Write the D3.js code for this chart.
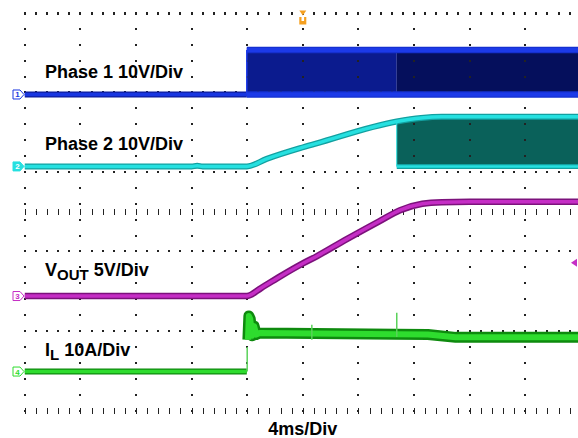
<!DOCTYPE html>
<html>
<head>
<meta charset="utf-8">
<script src="https://cdn.jsdelivr.net/npm/d3@7"></script>
<style>
  html, body { margin: 0; padding: 0; background: #fff; }
  svg { display: block; }
</style>
</head>
<body>
<svg id="scope" width="578" height="438"></svg>
<script>
// channel setup: volts (or amps) per division and ground position in divisions
var chPerDiv = [10, 10, 5, 10];
var chOffsetDiv = [2.95, 1.14, -2.12, -4.02];
var chColors = ["#1836e0", "#26e0e0", "#c52ec5", "#2edc2e"];

// time base: 4 ms/div, trigger in the centre
var timeDomain = [-20, 20];
var switchStartT = -4.03;   // controller starts switching
var phase2StartT = 6.76;    // second phase joins
var trigLevelV = 4.2;       // vout trigger level marker

// Phase 1 (V)
var ph1T = [-20, -4.03];
var ph1V = [0, 0];
var ph1EnvT = [-4.03, 6.76, 20];
var ph1High = [11.2, 11.2, 11.2];
var ph1Low = [0, 0, 0];

// Phase 2 (V)
var ph2T = [-20, -8.0, -7.6, -7.2, -4.03, -2.6, -0.2, 1.0, 6.76, 8.5, 10, 20];
var ph2V = [0, 0, 0.15, 0, 0, 1.9, 4.6, 5.8, 11.3, 12.2, 12.5, 12.5];

// VOUT (V)
var voutT = [-20, -4.03, -3, -1.6, 0, 1, 3, 5.5, 7, 8.6, 10, 12, 20];
var voutV = [0, 0, 1.0, 2.5, 4.1, 5.0, 7.0, 9.4, 10.8, 11.6, 11.8, 11.85, 11.85];

// IL (A)
var ilPreT = [-20, -4.03];
var ilPreA = [0, 0];
var ilT = [-3.95, -3.88, -3.78, -3.65, -3.5, -3.35, -3.1, 6.7, 9.0, 11.0, 20];
var ilA = [8.0, 14.0, 13.2, 9.0, 11.4, 9.3, 9.7, 9.4, 9.3, 8.6, 8.6];
var ilGlitchT = [-4.0, 0.65, 6.76];
var ilGlitchLo = [0, 8.0, 8.7];
var ilGlitchHi = [6.2, 11.8, 14.8];

var width = 578, height = 438;
var svg = d3.select("#scope");
svg.append("rect").attr("width", width).attr("height", height).attr("fill", "#fff");

var x = d3.scaleLinear().domain(timeDomain).range([24.8, 580.8]);
var yDiv = d3.scaleLinear().domain([-5, 5]).range([410.5, 13]);

function yCh(i) {
  return function (v) { return yDiv(chOffsetDiv[i] + v / chPerDiv[i]); };
}
var y1 = yCh(0), y2 = yCh(1), y3 = yCh(2), y4 = yCh(3);

function pts(ts, vs) {
  return ts.map(function (t, i) { return [t, vs[i]]; });
}

// ---- switching envelopes (drawn under the graticule)
var fills = svg.append("g");

var ph1Env = ph1EnvT.map(function (t, i) { return [t, ph1Low[i], ph1High[i]]; });
var ph1Area = d3.area()
  .x(function (d) { return x(d[0]); })
  .y0(function (d) { return y1(d[1]); })
  .y1(function (d) { return y1(d[2]); });

fills.append("path")
  .attr("d", ph1Area(ph1Env.filter(function (d) { return d[0] <= phase2StartT; })))
  .attr("fill", "#0b1b8e");
fills.append("path")
  .attr("d", ph1Area(ph1Env.filter(function (d) { return d[0] >= phase2StartT; })))
  .attr("fill", "#050f5c");

var ph2Sw = pts(ph2T, ph2V).filter(function (d) { return d[0] >= phase2StartT; });
fills.append("path")
  .attr("d", d3.area()
    .x(function (d) { return x(d[0]); })
    .y0(function () { return y2(0); })
    .y1(function (d) { return y2(d[1]); })
    .curve(d3.curveMonotoneX)(ph2Sw))
  .attr("fill", "#0a615a");

// ---- graticule (snapped to whole pixels so the dots stay crisp)
var grid = svg.append("g").attr("fill", "#222").attr("shape-rendering", "crispEdges");
var majorX = d3.range(timeDomain[0], timeDomain[1] + 0.01, 4);
var minorX = d3.range(timeDomain[0], timeDomain[1] + 0.01, 0.8);
var dotRows = [-3, -1, 1, 3];
var colDots = d3.range(-5, 5.01, 0.4);

function px(v) { return Math.round(v) - 1; }

// dotted vertical lines
grid.selectAll("rect.col")
  .data(d3.cross(majorX, colDots))
  .enter()
  .append("rect")
  .attr("class", "col")
  .attr("x", function (d) { return px(x(d[0])); })
  .attr("y", function (d) { return px(yDiv(d[1])); })
  .attr("width", 2)
  .attr("height", 2);

// dotted horizontal lines
grid.selectAll("rect.row")
  .data(d3.cross(dotRows, minorX))
  .enter()
  .append("rect")
  .attr("class", "row")
  .attr("x", function (d) { return px(x(d[1])); })
  .attr("y", function (d) { return px(yDiv(d[0])); })
  .attr("width", 2)
  .attr("height", 2);

// top edge: short ticks
grid.selectAll("rect.top")
  .data(minorX)
  .enter()
  .append("rect")
  .attr("class", "top")
  .attr("x", function (d) { return px(x(d)); })
  .attr("y", px(yDiv(5)))
  .attr("width", 2)
  .attr("height", 3);

// tick rows: centre line and bottom edge
grid.selectAll("rect.tick")
  .data(d3.cross([0, -5], minorX))
  .enter()
  .append("rect")
  .attr("class", "tick")
  .attr("x", function (d) { return Math.round(x(d[1])); })
  .attr("y", function (d) { return Math.round(yDiv(d[0])) - 3; })
  .attr("width", 1)
  .attr("height", 6);

// ---- traces
var traces = svg.append("g").attr("fill", "none").attr("stroke-linejoin", "round");

function band(data, yf, dark, bright, wDark, wBright, curve) {
  var line = d3.line()
    .x(function (d) { return x(d[0]); })
    .y(function (d) { return yf(d[1]); })
    .curve(curve || d3.curveLinear);
  traces.append("path").attr("d", line(data)).attr("stroke", dark).attr("stroke-width", wDark);
  traces.append("path").attr("d", line(data)).attr("stroke", bright).attr("stroke-width", wBright);
}

// phase 1
band(pts(ph1T, ph1V), y1, "#0c1c9c", chColors[0], 6, 3.5);
band(ph1Env.map(function (d) { return [d[0], d[2]]; }), y1, "#1530d0", "#1c3ae8", 6.5, 4);
band(ph1Env.map(function (d) { return [d[0], d[1]]; }), y1, "#1530d0", "#1c3ae8", 6.5, 4);
traces.append("line")
  .attr("x1", x(switchStartT)).attr("x2", x(switchStartT))
  .attr("y1", y1(ph1Low[0])).attr("y2", y1(ph1High[0]))
  .attr("stroke", "#1c3ae8").attr("stroke-width", 1.5);

// phase 2
band(pts(ph2T, ph2V), y2, "#12a0a0", chColors[1], 6, 3.5, d3.curveMonotoneX);
band([[phase2StartT, 0], [timeDomain[1], 0]], y2, "#12a0a0", chColors[1], 5, 2.5);
traces.append("line")
  .attr("x1", x(phase2StartT)).attr("x2", x(phase2StartT))
  .attr("y1", y2(0)).attr("y2", y2(ph2Sw[0][1]))
  .attr("stroke", chColors[1]).attr("stroke-width", 1);

// vout
band(pts(voutT, voutV), y3, "#7c127c", chColors[2], 6.5, 3.5, d3.curveMonotoneX);

// inductor current
band(pts(ilPreT, ilPreA), y4, "#0e8a0e", chColors[3], 6, 3.5);
band(pts(ilT, ilA), y4, "#0e8a0e", chColors[3], 11, 6);
traces.selectAll("line.glitch")
  .data(ilGlitchT)
  .enter()
  .append("line")
  .attr("class", "glitch")
  .attr("x1", function (d) { return x(d); })
  .attr("x2", function (d) { return x(d); })
  .attr("y1", function (d, i) { return y4(ilGlitchLo[i]); })
  .attr("y2", function (d, i) { return y4(ilGlitchHi[i]); })
  .attr("stroke", "#5ad25a")
  .attr("stroke-width", 1.5);

// ---- channel markers on the left
var markerLabels = ["1", "2", "3", "4"];
var markers = svg.append("g");
markerLabels.forEach(function (m, i) {
  var yc = yDiv(chOffsetDiv[i]);
  var filled = i === 1;
  markers.append("path")
    .attr("d", "M13," + (yc - 4.5) + "L20," + (yc - 4.5) + "L24," + yc +
      "L20," + (yc + 4.5) + "L13," + (yc + 4.5) + "Z")
    .attr("fill", filled ? chColors[i] : "#fff")
    .attr("stroke", chColors[i])
    .attr("stroke-width", 1);
  markers.append("text")
    .attr("x", 17.5)
    .attr("y", yc + 3)
    .attr("text-anchor", "middle")
    .attr("font-family", "Liberation Sans, Arial, sans-serif")
    .attr("font-size", 8)
    .attr("font-weight", "bold")
    .attr("fill", filled ? "#fff" : chColors[i])
    .text(m);
});

// trigger level marker (right) and trigger position (top)
markers.append("path")
  .attr("d", "M571," + y3(trigLevelV) + "l6,-4v8z")
  .attr("fill", chColors[2]);
var tx = x(0);
markers.append("path")
  .attr("d", "M" + (tx - 3.5) + ",10.5h7l-3.5,5z")
  .attr("fill", "#f5a020");
markers.append("path")
  .attr("d", "M" + (tx - 3.5) + ",17h2.2v4h2.6v-4h2.2v7.5h-7z")
  .attr("fill", "#f5a020");

// ---- labels
var labels = svg.append("g")
  .attr("font-family", "Liberation Sans, Arial, Helvetica, sans-serif")
  .attr("font-weight", "bold")
  .attr("font-size", 18)
  .attr("fill", "#000");

labels.append("text").attr("x", 45).attr("y", 78).text("Phase 1 10V/Div");
labels.append("text").attr("x", 45).attr("y", 150).text("Phase 2 10V/Div");

var vl = labels.append("text").attr("x", 45).attr("y", 276);
vl.append("tspan").text("V");
vl.append("tspan").attr("font-size", 15).attr("dy", 4).text("OUT");
vl.append("tspan").attr("dy", -4).text(" 5V/Div");

var il = labels.append("text").attr("x", 45).attr("y", 356);
il.append("tspan").text("I");
il.append("tspan").attr("font-size", 15).attr("dy", 4).text("L");
il.append("tspan").attr("dy", -4).text(" 10A/Div");

labels.append("text")
  .attr("x", x(0))
  .attr("y", 435)
  .attr("text-anchor", "middle")
  .text("4ms/Div");
</script>
</body>
</html>
